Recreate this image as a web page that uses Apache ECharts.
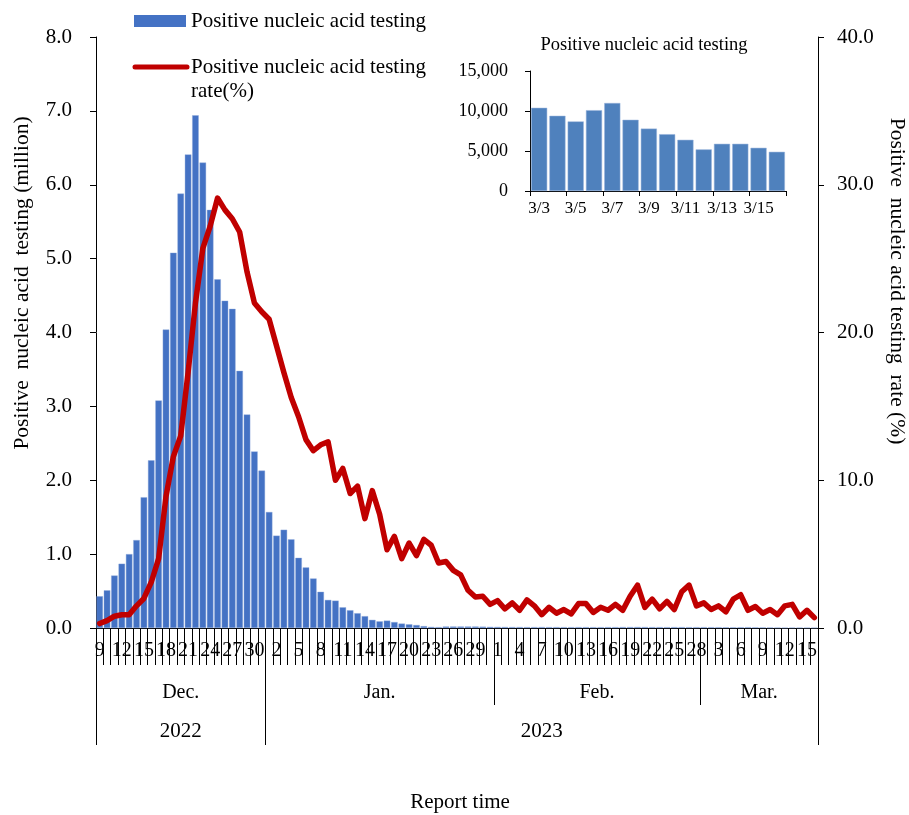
<!DOCTYPE html>
<html>
<head>
<meta charset="utf-8">
<script src="https://cdn.jsdelivr.net/npm/echarts@6/dist/echarts.min.js"></script>
<style>
html,body{margin:0;padding:0;background:#fff;}
#c{width:909px;height:815px;}
</style>
</head>
<body>
<div id="c"></div>
<script>
// Day labels (Dec 9, 2022 – Mar 16, 2023)
const dayLabels = [
  '9','10','11','12','13','14','15','16','17','18','19','20','21','22','23','24','25','26','27','28','29','30','31',
  '1','2','3','4','5','6','7','8','9','10','11','12','13','14','15','16','17','18','19','20','21','22','23','24','25','26','27','28','29','30','31',
  '1','2','3','4','5','6','7','8','9','10','11','12','13','14','15','16','17','18','19','20','21','22','23','24','25','26','27','28',
  '1','2','3','4','5','6','7','8','9','10','11','12','13','14','15','16'
];
const months = ['Dec.', 'Jan.', 'Feb.', 'Mar.'];
const monthDays = [23, 31, 28, 16];
const years = ['2022', '2023'];
const yearMonths = [1, 3];

// Positive nucleic acid testing (million)
const positives = [
  0.43,0.51,0.71,0.87,1.00,1.19,1.77,2.27,3.08,4.04,5.08,5.88,6.41,6.94,6.30,5.66,4.72,4.43,4.32,3.48,2.89,2.39,2.13,
  1.57,1.25,1.33,1.20,0.95,0.82,0.67,0.49,0.38,0.37,0.28,0.24,0.20,0.16,0.11,0.09,0.10,0.08,0.06,0.05,0.04,0.025,0.015,0.012,0.02,0.02,0.02,0.02,0.02,0.018,0.016,
  0.015,0.014,0.013,0.013,0.012,0.012,0.013,0.012,0.012,0.011,0.011,0.012,0.012,0.011,0.011,0.012,0.012,0.013,0.013,0.014,0.013,0.012,0.012,0.011,0.012,0.012,0.011,0.011,
  0.0108,0.0106,0.0104,0.0094,0.0087,0.0101,0.0110,0.0089,0.0078,0.0071,0.0064,0.0052,0.0059,0.0059,0.0054,0.0049
];
// Positive nucleic acid testing rate (%)
const rates = [
  0.3,0.5,0.8,0.9,0.9,1.5,2.0,3.1,4.7,8.9,11.6,13.0,17.3,22.0,25.7,27.2,29.1,28.3,27.7,26.8,24.1,22.0,21.4,
  20.9,19.1,17.3,15.6,14.3,12.75,12.0,12.4,12.6,10.0,10.8,9.1,9.6,7.4,9.3,7.7,5.3,6.2,4.7,5.75,4.9,6.0,5.6,4.4,4.5,3.9,3.6,2.55,2.1,2.15,1.6,
  1.85,1.3,1.7,1.2,1.9,1.5,0.9,1.4,1.0,1.25,0.95,1.65,1.65,1.05,1.4,1.2,1.6,1.2,2.15,2.9,1.4,1.95,1.3,1.8,1.25,2.45,2.9,1.5,
  1.7,1.25,1.5,1.1,1.95,2.25,1.2,1.45,1.0,1.25,0.9,1.5,1.6,0.75,1.2,0.7
];
// Inset: March daily positives
const insetDates = ['3/3','3/4','3/5','3/6','3/7','3/8','3/9','3/10','3/11','3/12','3/13','3/14','3/15','3/16'];
const insetValues = [10400,9400,8700,10100,11000,8900,7800,7100,6400,5200,5900,5900,5400,4900];

const leftTicks = [0,1,2,3,4,5,6,7,8];
const rightTicks = [0,10,20,30,40];

const FONT = "'Liberation Serif','Times New Roman',serif";
const BLUE = '#4472c4';
const RED = '#c00000';

const chart = echarts.init(document.getElementById('c'), null, {renderer: 'canvas'});

const option = {
  backgroundColor: '#fff',
  animation: false,
  textStyle: {fontFamily: FONT, color: '#000'},
  grid: [
    {left: 96, right: 91, top: 37, bottom: 187},
    {left: 530, top: 71, width: 256, height: 120}
  ],
  xAxis: [
    {
      type: 'category', gridIndex: 0, data: dayLabels, boundaryGap: true,
      axisLine: {lineStyle: {color: '#000', width: 1}},
      axisTick: {show: true, interval: 0, length: 37, lineStyle: {color: '#000', width: 1}},
      axisLabel: {interval: 2, margin: 13, fontSize: 20, fontFamily: FONT, color: '#000'}
    },
    {
      type: 'category', gridIndex: 1, data: insetDates, boundaryGap: true,
      axisLine: {lineStyle: {color: '#000', width: 1}},
      axisTick: {show: true, interval: 1, length: 5, lineStyle: {color: '#000'}},
      axisLabel: {interval: 1, margin: 9, fontSize: 17, fontFamily: FONT, color: '#000'}
    }
  ],
  yAxis: [
    {
      type: 'value', gridIndex: 0, min: leftTicks[0], max: leftTicks[leftTicks.length - 1], interval: 1,
      axisLine: {show: true, lineStyle: {color: '#000', width: 1}},
      axisTick: {show: true, length: 6, lineStyle: {color: '#000'}},
      splitLine: {show: false},
      axisLabel: {margin: 24, fontSize: 21, fontFamily: FONT, color: '#000', formatter: v => v.toFixed(1)}
    },
    {
      type: 'value', gridIndex: 0, position: 'right', min: rightTicks[0], max: rightTicks[rightTicks.length - 1], interval: 10,
      axisLine: {show: true, lineStyle: {color: '#000', width: 1}},
      axisTick: {show: true, length: 6, lineStyle: {color: '#000'}},
      splitLine: {show: false},
      axisLabel: {margin: 19, fontSize: 21, fontFamily: FONT, color: '#000', formatter: v => v.toFixed(1)}
    },
    {
      type: 'value', gridIndex: 1, min: 0, max: 15000, interval: 5000,
      axisLine: {show: true, lineStyle: {color: '#000', width: 1}},
      axisTick: {show: true, length: 5, lineStyle: {color: '#000'}},
      splitLine: {show: false},
      axisLabel: {margin: 22, fontSize: 18, fontFamily: FONT, color: '#000',
        formatter: v => v.toLocaleString('en-US')}
    }
  ],
  series: [
    {
      name: 'Positive nucleic acid testing', type: 'bar', xAxisIndex: 0, yAxisIndex: 0,
      data: positives, barCategoryGap: '12%',
      itemStyle: {color: BLUE, borderColor: '#8eaadb', borderWidth: 0.4}
    },
    {
      name: 'Positive nucleic acid testing rate(%)', type: 'line', xAxisIndex: 0, yAxisIndex: 1,
      data: rates, symbol: 'none', smooth: false, z: 5,
      lineStyle: {color: RED, width: 5.5, cap: 'round', join: 'round'}
    },
    {
      name: 'inset', type: 'bar', xAxisIndex: 1, yAxisIndex: 2,
      data: insetValues, barCategoryGap: '12%',
      itemStyle: {color: '#4f81bd', borderColor: '#9bb5dc', borderWidth: 0.5}
    }
  ]
};
chart.setOption(option);

// Build multi-level category labels from the axis scale
const px = i => chart.convertToPixel({xAxisIndex: 0}, i);
const band = px(1) - px(0);
const edge = i => px(i) - band / 2;   // left boundary of category i
const yAxisPx = chart.convertToPixel({yAxisIndex: 0}, 0);
const graphics = [];
const lineStyle = {stroke: '#000', lineWidth: 1};
let start = 0;
const monthEdges = [0];
monthDays.forEach(d => { start += d; monthEdges.push(start); });
// Month labels
months.forEach((m, k) => {
  const x0 = edge(monthEdges[k]);
  const x1 = edge(monthEdges[k + 1]);
  graphics.push({type: 'text', x: (x0 + x1) / 2, y: yAxisPx + 65,
    style: {text: m, font: '20px ' + FONT, fill: '#000', align: 'center', verticalAlign: 'middle'}});
});
// Year labels
let mStart = 0;
years.forEach((yr, k) => {
  const mEnd = mStart + yearMonths[k];
  const x0 = edge(monthEdges[mStart]);
  const x1 = edge(monthEdges[mEnd]);
  graphics.push({type: 'text', x: (x0 + x1) / 2, y: yAxisPx + 103,
    style: {text: yr, font: '21px ' + FONT, fill: '#000', align: 'center', verticalAlign: 'middle'}});
  mStart = mEnd;
});
// separators: year boundaries long, month boundaries short
const yearBoundaryMonths = [0, 1, 4];
monthEdges.forEach((e, k) => {
  const x = Math.round(edge(e)) + 0.5;
  const long = yearBoundaryMonths.includes(k);
  graphics.push({type: 'line', shape: {x1: x, y1: yAxisPx, x2: x, y2: yAxisPx + (long ? 117 : 77)}, style: lineStyle, silent: true});
});
// Axis titles
graphics.push({type: 'text', x: 22, y: 283, rotation: Math.PI / 2,
  style: {text: 'Positive  nucleic acid  testing (million)', font: '21.5px ' + FONT, fill: '#000', align: 'center', verticalAlign: 'middle'}});
graphics.push({type: 'text', x: 897, y: 281, rotation: -Math.PI / 2,
  style: {text: 'Positive  nucleic acid testing  rate (%)', font: '21.5px ' + FONT, fill: '#000', align: 'center', verticalAlign: 'middle'}});
graphics.push({type: 'text', x: 460, y: 802,
  style: {text: 'Report time', font: '21px ' + FONT, fill: '#000', align: 'center', verticalAlign: 'middle'}});
// Inset title
graphics.push({type: 'text', x: 644, y: 45,
  style: {text: 'Positive nucleic acid testing', font: '18.5px ' + FONT, fill: '#000', align: 'center', verticalAlign: 'middle'}});
// Legend
graphics.push({type: 'rect', shape: {x: 134, y: 15, width: 52, height: 12}, style: {fill: BLUE}});
graphics.push({type: 'text', x: 191, y: 21,
  style: {text: 'Positive nucleic acid testing', font: '21px ' + FONT, fill: '#000', align: 'left', verticalAlign: 'middle'}});
graphics.push({type: 'line', shape: {x1: 135, y1: 67, x2: 187, y2: 67}, style: {stroke: RED, lineWidth: 5, lineCap: 'round'}});
graphics.push({type: 'text', x: 191, y: 67,
  style: {text: 'Positive nucleic acid testing', font: '21px ' + FONT, fill: '#000', align: 'left', verticalAlign: 'middle'}});
graphics.push({type: 'text', x: 191, y: 91,
  style: {text: 'rate(%)', font: '21px ' + FONT, fill: '#000', align: 'left', verticalAlign: 'middle'}});

chart.setOption({graphic: graphics});
</script>
</body>
</html>
